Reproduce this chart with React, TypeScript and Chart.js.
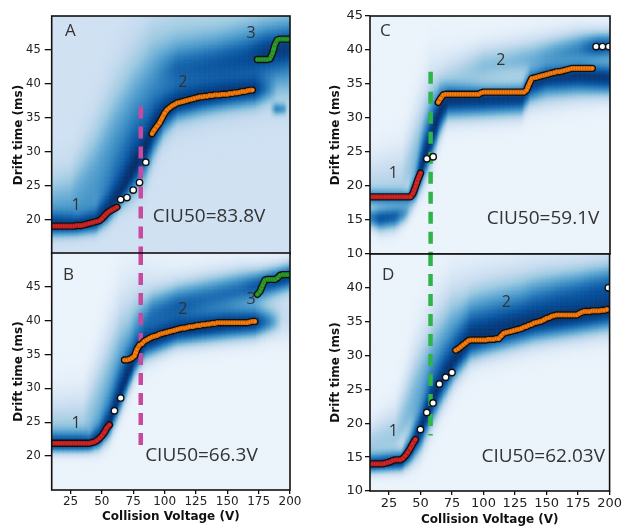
import React, { useEffect, useRef } from "react";
import { Chart, registerables } from "chart.js";

Chart.register(...registerables);

type Pt = [number, number];
// [voltage, centre drift time, spread below, spread above, weight]
type Node = [number, number, number, number, number];
type Note = [string, number, number, number, "left" | "center"];

const PAGE_W = 623;
const PAGE_H = 527;

// ---------- axes ----------
const voltageTicks = [25, 50, 75, 100, 125, 150, 175, 200];
const driftTicksAB = [20, 25, 30, 35, 40, 45];
const driftTicksC = [10, 15, 20, 25, 30, 35, 40, 45];
const driftTicksD = [10, 15, 20, 25, 30, 35, 40];

// ---------- panel A ----------
const aFeature1: Pt[] = [[10,19.1],[12,19.1],[14,19.1],[16,19.1],[18,19.1],[20,19.1],[22,19.1],[24,19.1],[26,19.1],[28,19.1],[30,19.2],[32,19.2],[34,19.2],[36,19.3],[38,19.4],[40,19.5],[42,19.6],[44,19.7],[46,19.8],[48,19.9],[50,20.2],[52,20.6],[54,21.0],[56,21.3],[58,21.5],[60,21.7],[62,21.9]];
const aTransition: Pt[] = [[65,23.0],[70,23.3],[75,24.4],[80,25.5],[85,28.5]];
const aFeature2: Pt[] = [[90,32.7],[92,33.3],[94,33.8],[96,34.3],[98,35.0],[100,35.7],[102,36.2],[104,36.5],[106,36.8],[108,37.0],[110,37.2],[112,37.3],[114,37.4],[116,37.5],[118,37.6],[120,37.7],[122,37.8],[124,37.9],[126,38.0],[128,38.1],[130,38.1],[132,38.2],[134,38.2],[136,38.3],[138,38.3],[140,38.4],[142,38.4],[144,38.4],[146,38.5],[148,38.5],[150,38.5],[152,38.6],[154,38.6],[156,38.7],[158,38.7],[160,38.8],[162,38.9],[164,38.9],[166,39.0],[168,39.1],[170,39.1]];
const aFeature3: Pt[] = [[174,43.6],[176,43.6],[178,43.6],[180,43.6],[182,43.6],[184,43.7],[186,44.5],[188,45.8],[190,46.5],[192,46.6],[194,46.6],[196,46.6],[198,46.6],[200,46.6]];
const aBandCore: Node[] = [[10,19.3,1.0,1.3,0.93],[30,19.3,1.0,1.3,0.93],[45,19.8,1.1,1.7,0.95],[55,21.6,1.3,2.6,0.97],[65,24.2,1.5,3.4,0.98],[75,27.6,2.4,3.6,1.0],[85,31.0,3.0,3.0,1.0],[92,34.0,2.6,2.4,1.0],[100,36.0,1.8,1.9,0.97],[110,37.3,1.5,1.7,0.96],[130,38.2,1.5,1.7,0.95],[150,38.8,1.5,1.7,0.95],[172,39.3,1.5,1.7,0.92],[182,39.4,1.2,1.4,0.45],[190,39.4,1.2,1.4,0]];
const aBandHalo: Node[] = [[10,21,2.0,3.5,0.44],[25,21.5,2.0,3.8,0.44],[45,24.5,2.5,6,0.5],[60,28.5,3.5,7,0.56],[75,33,4,7,0.58],[90,37.5,4,6.5,0.58],[110,40,3.5,6,0.54],[140,41.5,3.5,5.5,0.5],[170,42.5,3.5,5.5,0.5],[200,43,3.5,5.5,0.5]];
const aBandUpper: Node[] = [[90,41.5,1.5,2,0],[110,42.3,1.8,2,0.5],[140,43.0,2,2.2,0.62],[165,43.8,2,2.4,0.72],[180,44.6,2,2.4,0.88],[200,45.3,2,2.4,0.88]];
const aBandSpot: Node[] = [[184,36.4,0.6,0.6,0],[189,36.4,0.6,0.6,0.55],[195,36.4,0.6,0.6,0.45],[199,36.4,0.6,0.6,0]];

// ---------- panel B ----------
const bFeature1: Pt[] = [[10,21.9],[12,21.9],[14,21.9],[16,21.9],[18,21.9],[20,21.9],[22,21.9],[24,21.9],[26,21.9],[28,21.9],[30,21.9],[32,21.9],[34,21.9],[36,21.9],[38,21.9],[40,21.9],[42,22.0],[44,22.1],[46,22.3],[48,22.6],[50,23.0],[52,23.5],[54,24.2],[56,24.6]];
const bTransition: Pt[] = [[60,26.7],[65,28.6]];
const bFeature2: Pt[] = [[68,34.2],[70,34.2],[72,34.3],[74,34.5],[76,34.8],[78,35.8],[80,36.4],[82,36.6],[84,37.0],[86,37.2],[88,37.4],[90,37.6],[92,37.7],[94,37.8],[96,38.0],[98,38.1],[100,38.2],[102,38.3],[104,38.4],[106,38.5],[108,38.6],[110,38.7],[112,38.8],[114,38.9],[116,38.9],[118,39.0],[120,39.1],[122,39.1],[124,39.2],[126,39.3],[128,39.3],[130,39.4],[132,39.4],[134,39.5],[136,39.5],[138,39.6],[140,39.6],[142,39.7],[144,39.7],[146,39.7],[148,39.7],[150,39.7],[152,39.7],[154,39.7],[156,39.7],[158,39.7],[160,39.7],[162,39.7],[164,39.7],[166,39.7],[168,39.8],[170,39.9],[172,39.9]];
const bFeature3: Pt[] = [[174,43.9],[176,44.3],[178,45.2],[180,46.0],[182,46.1],[184,46.1],[186,46.1],[188,46.1],[190,46.3],[192,46.7],[194,46.8],[196,46.8],[198,46.8],[200,46.8]];
const bBandCore: Node[] = [[10,21.9,0.9,1.2,0.93],[40,21.9,0.9,1.2,0.93],[48,22.8,1.2,1.8,0.96],[56,25.0,1.6,2.6,0.98],[63,28.5,1.9,2.8,0.98],[70,32.0,1.9,2.6,0.98],[77,35.0,1.7,2.1,0.97],[85,37.0,1.5,1.7,0.96],[110,38.7,1.5,1.7,0.96],[150,39.6,1.5,1.6,0.96],[172,39.8,1.4,1.5,0.92],[184,39.9,1.1,1.2,0.5],[194,39.9,1.0,1.1,0]];
const bBandHalo: Node[] = [[10,23.5,1.5,3.5,0.34],[35,23.5,1.5,3.8,0.34],[50,27.5,2.5,5.5,0.44],[65,33,3,6.5,0.5],[80,37.5,2.5,5.5,0.47],[110,39.5,2,4,0.36],[170,40.5,2,3.5,0.34],[200,40.5,2,3.5,0.18]];
const bBandUpper: Node[] = [[72,38,1.5,2,0],[90,41,1.6,2,0.55],[110,42.3,1.7,2.1,0.7],[135,43.5,1.7,2.1,0.66],[160,44.6,1.6,2,0.7],[175,45.2,1.5,1.7,0.82],[190,46,1.4,1.5,0.9],[200,46.5,1.4,1.5,0.9]];

// ---------- panel C ----------
const cFeature1: Pt[] = [[10,18.4],[12,18.4],[14,18.4],[16,18.4],[18,18.4],[20,18.4],[22,18.4],[24,18.4],[26,18.4],[28,18.4],[30,18.4],[32,18.4],[34,18.4],[36,18.4],[38,18.4],[40,18.4],[42,18.4],[44,18.9],[46,19.9],[48,21.0],[50,21.9]];
const cTransition: Pt[] = [[55,24.0],[60,24.3]];
const cFeature2: Pt[] = [[64,32.3],[66,32.9],[68,33.4],[70,33.5],[72,33.5],[74,33.5],[76,33.5],[78,33.5],[80,33.5],[82,33.5],[84,33.5],[86,33.5],[88,33.5],[90,33.5],[92,33.5],[94,33.5],[96,33.5],[98,33.7],[100,33.8],[102,33.8],[104,33.8],[106,33.8],[108,33.8],[110,33.8],[112,33.8],[114,33.8],[116,33.8],[118,33.8],[120,33.8],[122,33.8],[124,33.8],[126,33.8],[128,33.8],[130,33.8],[132,33.8],[134,34.1],[136,35.0],[138,35.8],[140,35.9],[142,36.0],[144,36.1],[146,36.2],[148,36.3],[150,36.4],[152,36.5],[154,36.6],[156,36.7],[158,36.8],[160,36.8],[162,36.9],[164,37.0],[166,37.1],[168,37.2],[170,37.3],[172,37.3],[174,37.3],[176,37.3],[178,37.3],[180,37.3],[182,37.3],[184,37.3],[186,37.3]];
const cTail: Pt[] = [[189,40.5],[194,40.5],[199,40.5]];
const cBandCore: Node[] = [[10,18.3,0.8,0.9,0.65],[40,18.3,0.8,0.9,0.65],[46,19.5,1.3,1.7,0.9],[52,23.5,2.1,2.6,0.97],[60,28.0,2.4,2.8,0.98],[66,31.3,2.1,2.1,0.98],[72,32.8,1.7,1.3,0.96],[100,32.9,1.7,1.1,0.94],[130,33.1,1.7,1.1,0.94],[137,35.0,1.5,1.4,0.93],[150,35.9,1.5,1.4,0.93],[175,36.3,1.6,1.4,0.95],[200,36.0,1.6,1.4,0.93]];
const cBandLow: Node[] = [[8,15.5,1,1,0.6],[18,15.3,1.3,1.3,0.85],[30,15.6,1.3,1.3,0.8],[38,16.2,1.1,1.1,0.55],[46,17.2,0.9,0.9,0]];
const cBandHalo: Node[] = [[10,20,1.5,3,0.24],[35,20.5,1.5,3.5,0.26],[48,24,2.5,5,0.44],[58,29,3,5,0.48],[70,33,2.2,3.5,0.4],[120,33.5,2,3,0.3],[200,36,2,3.5,0.32]];
const cBandUpper: Node[] = [[68,36.5,1.5,2,0],[100,38,1.5,2,0.3],[140,39,1.5,2,0.4],[175,40.2,1.5,1.8,0.6],[190,40.5,1.3,1.5,0.85],[200,40.6,1.3,1.5,0.8]];

// ---------- panel D ----------
const dFeature1: Pt[] = [[10,14.0],[12,14.0],[14,14.0],[16,14.0],[18,14.0],[20,14.0],[22,14.1],[24,14.2],[26,14.3],[28,14.5],[30,14.6],[32,14.6],[34,14.6],[36,14.8],[38,15.2],[40,15.7],[42,16.3],[44,17.0],[46,17.6]];
const dTransition: Pt[] = [[50,19.1],[55,21.6],[60,23.0],[65,25.8],[70,26.8],[75,27.5]];
const dFeature2: Pt[] = [[78,30.8],[80,31.0],[82,31.3],[84,31.6],[86,31.9],[88,32.2],[90,32.3],[92,32.3],[94,32.3],[96,32.3],[98,32.3],[100,32.3],[102,32.3],[104,32.4],[106,32.4],[108,32.4],[110,32.5],[112,32.5],[114,32.9],[116,33.3],[118,33.4],[120,33.5],[122,33.6],[124,33.7],[126,33.8],[128,33.9],[130,34.0],[132,34.2],[134,34.3],[136,34.5],[138,34.6],[140,34.8],[142,34.9],[144,35.0],[146,35.1],[148,35.3],[150,35.5],[152,35.6],[154,35.8],[156,35.9],[158,36.0],[160,36.0],[162,36.0],[164,36.0],[166,36.0],[168,36.0],[170,36.0],[172,36.0],[174,36.0],[176,36.2],[178,36.4],[180,36.5],[182,36.5],[184,36.5],[186,36.6],[188,36.6],[190,36.6],[192,36.6],[194,36.7],[196,36.7],[198,36.8]];
const dTail: Pt[] = [[199,40.0]];
const dBandCore: Node[] = [[10,14.0,0.9,1.1,0.95],[35,14.4,1.0,1.2,0.95],[42,16.0,1.4,1.8,0.97],[50,19.0,2.1,2.6,0.98],[58,23.0,2.4,3.0,0.98],[68,26.8,2.4,2.8,0.97],[78,29.8,2.1,2.7,0.97],[90,32.5,1.9,3.0,0.97],[110,33.5,1.9,3.1,0.96],[140,35.0,1.9,3.1,0.96],[175,36.0,1.9,2.7,0.96],[200,36.8,1.9,2.7,0.96]];
const dBandHalo: Node[] = [[10,17,1.5,2,0.3],[30,18,1.5,3,0.33],[45,23,3,5,0.45],[60,28.5,3.5,5.5,0.5],[75,33,3.5,5,0.5],[100,35.5,3,4.5,0.45],[150,37.5,3,4.5,0.42],[200,38.5,3,4.5,0.42]];
const dBandUpper: Node[] = [[130,38,1.5,2,0],[160,38.8,1.5,2,0.35],[185,39.6,1.5,2,0.5],[200,40,1.5,2,0.55]];

// ---------- colours ----------
const RED = "#d62728";
const ORANGE = "#ff7f0e";
const GREEN = "#2ca02c";
const PINK_MARK = "#c84a9f";
const GREEN_MARK = "#2fb34a";

const BLUES: number[][] = [
  [247, 251, 255], [222, 235, 247], [198, 219, 239], [158, 202, 225],
  [107, 174, 214], [66, 146, 198], [33, 113, 181], [8, 81, 156], [8, 48, 107],
];

function blues(t: number): string {
  const u = Math.max(0, Math.min(1, t)) * (BLUES.length - 1);
  const i = Math.min(BLUES.length - 2, Math.floor(u));
  const f = u - i;
  const a = BLUES[i], b = BLUES[i + 1];
  const c = a.map((v, k) => Math.round(v + (b[k] - v) * f));
  return `rgb(${c[0]},${c[1]},${c[2]})`;
}

function sampleBand(band: Node[], v: number): number[] | null {
  if (v < band[0][0] || v > band[band.length - 1][0]) return null;
  for (let i = 0; i < band.length - 1; i++) {
    const a = band[i], b = band[i + 1];
    if (v >= a[0] && v <= b[0]) {
      const f = (v - a[0]) / (b[0] - a[0] || 1);
      return a.map((x, k) => x + (b[k] - x) * f);
    }
  }
  return band[band.length - 1];
}

// intensity map drawn cell by cell behind the traces
function densityPlugin(bands: Node[][], floor: number) {
  return {
    id: "density",
    beforeDatasetsDraw(chart: any) {
      const { ctx, chartArea: a, scales } = chart;
      const xs = scales.x, ys = scales.y;
      ctx.save();
      ctx.beginPath();
      ctx.rect(a.left, a.top, a.right - a.left, a.bottom - a.top);
      ctx.clip();
      const dv = 1, dt = 0.2;
      for (let v = xs.min; v < xs.max; v += dv) {
        const vc = v + dv / 2;
        const prof = bands.map((b) => sampleBand(b, vc)).filter((p) => p) as number[][];
        const x0 = xs.getPixelForValue(v);
        const x1 = xs.getPixelForValue(v + dv);
        for (let t = ys.min; t < ys.max; t += dt) {
          const tc = t + dt / 2;
          let keep = 1 - floor;
          for (const p of prof) {
            const d = tc - p[1];
            const s = d < 0 ? p[2] : p[3];
            keep *= 1 - p[4] * Math.exp((-0.5 * d * d) / (s * s));
          }
          const y0 = ys.getPixelForValue(t + dt);
          const y1 = ys.getPixelForValue(t);
          ctx.fillStyle = blues(1 - keep);
          ctx.fillRect(x0, y0, x1 - x0 + 0.6, y1 - y0 + 0.6);
        }
      }
      ctx.restore();
    },
  };
}

function markerPlugin(v: number, from: number, to: number, color: string) {
  return {
    id: "marker",
    beforeDatasetsDraw(chart: any) {
      const { ctx, chartArea: a, scales } = chart;
      const x = scales.x.getPixelForValue(v);
      ctx.save();
      ctx.beginPath();
      ctx.rect(a.left, a.top, a.right - a.left, a.bottom - a.top);
      ctx.clip();
      ctx.strokeStyle = color;
      ctx.lineWidth = 4.5;
      ctx.setLineDash([12, 8]);
      ctx.beginPath();
      ctx.moveTo(x, scales.y.getPixelForValue(from));
      ctx.lineTo(x, scales.y.getPixelForValue(to));
      ctx.stroke();
      ctx.restore();
    },
  };
}

function decorPlugin(notes: Note[]) {
  return {
    id: "decor",
    afterDraw(chart: any) {
      const { ctx, chartArea: a, scales } = chart;
      ctx.save();
      ctx.fillStyle = "#333";
      ctx.textBaseline = "middle";
      for (const [text, v, t, size, align] of notes) {
        ctx.font = `${size}px "Open Sans", "DejaVu Sans", sans-serif`;
        ctx.textAlign = align;
        ctx.fillText(text, scales.x.getPixelForValue(v), scales.y.getPixelForValue(t));
      }
      ctx.strokeStyle = "#111";
      ctx.lineWidth = 1.6;
      ctx.strokeRect(a.left, a.top, a.right - a.left, a.bottom - a.top);
      ctx.restore();
    },
  };
}

interface PanelSpec {
  l: number; t: number; r: number; b: number;
  yMin: number; yMax: number; yTicks: number[]; yFont: number; yAxisW: number; yTickLen: number; yTickPad: number;
  showX: boolean; xFont: number; xAxisH: number;
  series: { pts: Pt[]; color: string }[];
  hollow: Pt[][];
  bands: Node[][]; floor: number;
  marker: [number, number, number, string];
  notes: Note[];
}

const TITLE_FONT = { family: "'DejaVu Sans', sans-serif", size: 12, weight: "bold" as const, lineHeight: 1 };

function buildConfig(p: PanelSpec): any {
  const datasets: any[] = [];
  for (const s of p.series) {
    const data = s.pts.map(([x, y]) => ({ x, y }));
    // dark outline underneath, coloured trace on top
    datasets.push({
      data, order: 3, showLine: true, borderColor: "#111", borderWidth: 7.4, pointRadius: 0,
      borderCapStyle: "round", borderJoinStyle: "round", clip: 0,
    });
    datasets.push({
      data, order: 2, showLine: true, borderColor: s.color, borderWidth: 4.6, pointRadius: 2.2,
      pointBackgroundColor: s.color, pointBorderColor: "rgba(0,0,0,0.3)", pointBorderWidth: 0.6,
      borderCapStyle: "round", borderJoinStyle: "round", clip: 0,
    });
  }
  for (const h of p.hollow) {
    datasets.push({
      data: h.map(([x, y]) => ({ x, y })), order: 1, showLine: false, pointRadius: 3.2,
      pointBackgroundColor: "#fff", pointBorderColor: "#111", pointBorderWidth: 1.4, clip: 0,
    });
  }
  const tickGrid = (len: number) => ({
    display: true, drawOnChartArea: false, drawTicks: true, tickLength: len, color: "#111", lineWidth: 1.3,
  });
  return {
    type: "scatter",
    data: { datasets },
    plugins: [
      densityPlugin(p.bands, p.floor),
      markerPlugin(p.marker[0], p.marker[1], p.marker[2], p.marker[3]),
      decorPlugin(p.notes),
    ],
    options: {
      responsive: false,
      animation: false,
      devicePixelRatio: 1,
      events: [],
      layout: {
        padding: {
          left: p.l - p.yAxisW,
          top: p.t,
          right: PAGE_W - p.r,
          bottom: p.showX ? PAGE_H - p.b - p.xAxisH : PAGE_H - p.b,
        },
      },
      plugins: { legend: { display: false }, tooltip: { enabled: false } },
      scales: {
        x: {
          type: "linear", min: 10, max: 200, display: p.showX,
          afterBuildTicks: (s: any) => { s.ticks = voltageTicks.map((value) => ({ value })); },
          afterFit: (s: any) => { s.height = p.xAxisH; },
          ticks: { font: { family: "'DejaVu Sans', sans-serif", size: p.xFont }, color: "#222", padding: 1, maxRotation: 0, autoSkip: false },
          grid: tickGrid(4),
          border: { display: false },
          title: { display: true, text: "Collision Voltage (V)", font: TITLE_FONT, color: "#111", padding: 0 },
        },
        y: {
          type: "linear", min: p.yMin, max: p.yMax,
          afterBuildTicks: (s: any) => { s.ticks = p.yTicks.map((value) => ({ value })); },
          afterFit: (s: any) => { s.width = p.yAxisW; },
          ticks: { font: { family: "'DejaVu Sans', sans-serif", size: p.yFont }, color: "#222", padding: p.yTickPad, autoSkip: false },
          grid: tickGrid(p.yTickLen),
          border: { display: false },
          title: { display: true, text: "Drift time (ms)", font: TITLE_FONT, color: "#111", padding: 0 },
        },
      },
    },
  };
}

const panels: PanelSpec[] = [
  {
    l: 51.7, t: 16, r: 290, b: 254, yMin: 15, yMax: 50, yTicks: driftTicksAB, yFont: 11.5, yAxisW: 38.7, yTickLen: 7, yTickPad: 4,
    showX: false, xFont: 12, xAxisH: 0,
    series: [{ pts: aFeature1, color: RED }, { pts: aFeature2, color: ORANGE }, { pts: aFeature3, color: GREEN }],
    hollow: [aTransition],
    bands: [aBandCore, aBandHalo, aBandUpper, aBandSpot], floor: 0.2,
    marker: [81, 36.7, 15, PINK_MARK],
    notes: [["A", 20.6, 47.8, 17, "left"], ["1", 29.4, 22.1, 16, "center"], ["2", 114.6, 40.3, 16, "center"], ["3", 168.9, 47.5, 16, "center"], ["CIU50=83.8V", 90.6, 20.5, 19, "left"]],
  },
  {
    l: 51.7, t: 253, r: 290, b: 490, yMin: 15, yMax: 50, yTicks: driftTicksAB, yFont: 11.5, yAxisW: 38.7, yTickLen: 7, yTickPad: 4,
    showX: true, xFont: 12, xAxisH: 33,
    series: [{ pts: bFeature1, color: RED }, { pts: bFeature2, color: ORANGE }, { pts: bFeature3, color: GREEN }],
    hollow: [bTransition],
    bands: [bBandCore, bBandHalo, bBandUpper], floor: 0.06,
    marker: [81, 50, 21.4, PINK_MARK],
    notes: [["B", 19, 46.75, 17, "left"], ["1", 29.4, 24.85, 16, "center"], ["2", 114.6, 41.7, 16, "center"], ["3", 168.9, 43.2, 16, "center"], ["CIU50=66.3V", 84.5, 20.06, 19, "left"]],
  },
  {
    l: 370, t: 16, r: 610, b: 254, yMin: 10, yMax: 45, yTicks: driftTicksC, yFont: 13, yAxisW: 40, yTickLen: 5, yTickPad: 2,
    showX: false, xFont: 13, xAxisH: 0,
    series: [{ pts: cFeature1, color: RED }, { pts: cFeature2, color: ORANGE }],
    hollow: [cTransition, cTail],
    bands: [cBandCore, cBandLow, cBandHalo, cBandUpper], floor: 0.06,
    marker: [58, 36.8, 10, GREEN_MARK],
    notes: [["C", 17.9, 42.8, 17, "left"], ["1", 28.4, 21.9, 16, "center"], ["2", 113.5, 38.5, 16, "center"], ["CIU50=59.1V", 102.4, 15.25, 19, "left"]],
  },
  {
    l: 370, t: 254, r: 610, b: 491, yMin: 10, yMax: 45, yTicks: driftTicksD, yFont: 13, yAxisW: 40, yTickLen: 5, yTickPad: 2,
    showX: true, xFont: 13, xAxisH: 35,
    series: [{ pts: dFeature1, color: RED }, { pts: dFeature2, color: ORANGE }],
    hollow: [dTransition, dTail],
    bands: [dBandCore, dBandHalo, dBandUpper], floor: 0.06,
    marker: [58, 45, 18.2, GREEN_MARK],
    notes: [["D", 19.5, 41.9, 17, "left"], ["1", 28.4, 18.75, 16, "center"], ["2", 118.2, 37.8, 16, "center"], ["CIU50=62.03V", 98.4, 15.1, 19, "left"]],
  },
];

function Panel({ spec }: { spec: PanelSpec }) {
  const ref = useRef<HTMLCanvasElement>(null);
  useEffect(() => {
    const chart = new Chart(ref.current as HTMLCanvasElement, buildConfig(spec));
    return () => chart.destroy();
  }, [spec]);
  return (
    <canvas
      ref={ref}
      width={PAGE_W}
      height={PAGE_H}
      style={{ position: "absolute", left: 0, top: 0, width: PAGE_W, height: PAGE_H }}
    />
  );
}

export default function App() {
  return (
    <div style={{ position: "absolute", left: 0, top: 0, width: PAGE_W, height: PAGE_H, background: "#fff", overflow: "hidden" }}>
      {panels.map((p, i) => (
        <Panel key={i} spec={p} />
      ))}
    </div>
  );
}
